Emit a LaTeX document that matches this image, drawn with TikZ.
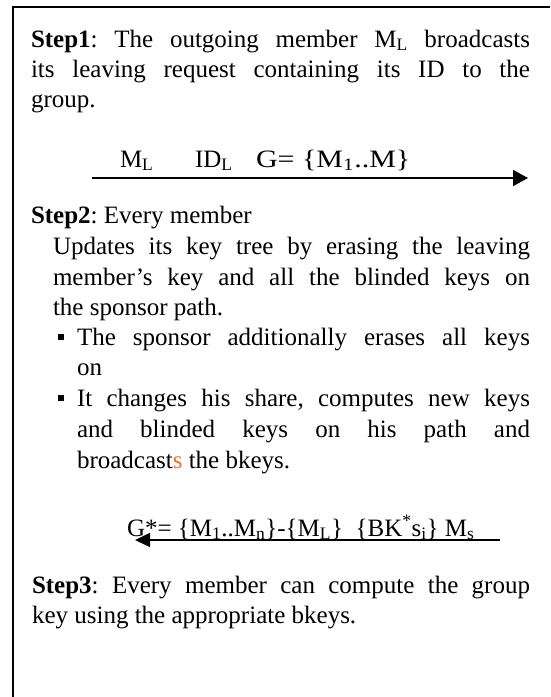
\documentclass[tikz,border=0pt]{standalone}
\usepackage{fontspec}
\usepackage{graphicx}
\setmainfont{Liberation Serif}
\usetikzlibrary{arrows.meta}
\definecolor{accent}{RGB}{237,112,50}
\frenchspacing

\tikzset{
  txt/.style={anchor=base west, inner sep=0pt, outer sep=0pt, font=\fontsize{25}{31}\selectfont},
  msg/.style={line width=1.5pt},
  bulletsq/.style={fill=black, draw=none, minimum size=6.5pt, inner sep=0pt, outer sep=0pt},
}
% justified line of a given width
\newcommand{\jline}[2]{\hbox to #1{#2}}

\begin{document}
\begin{tikzpicture}[x=1pt,y=-1pt]
\useasboundingbox (0,0) rectangle (550,697);
\fill[white] (0,0) rectangle (550,697);

% frame (open to the right and bottom)
\draw[line width=2pt] (12.5,697) -- (12.5,6.5) -- (550,6.5);

% Step 1
\node[txt] (s1a) at (31,47) {\jline{499pt}{\textbf{Step1}: The outgoing member M\textsubscript{L} broadcasts}};
\node[txt] (s1b) at (31,77) {\jline{499pt}{its leaving request containing its ID to the}};
\node[txt] (s1c) at (31,107) {group.};

% leave request message
\node[txt] (m1) at (120,167) {M\textsubscript{L}};
\node[txt] (m2) at (195,167) {ID\textsubscript{L}};
\node[txt] (m3) at (256,167) {\scalebox{1.2}[1]{G= \{M\textsubscript{1}..M\}}};
\coordinate (a1s) at (92,178);
\coordinate (a1e) at (528,178);
\draw[msg,-{Triangle[length=15pt,width=16pt]}] (a1s) -- (a1e);

% Step 2
\node[txt] (s2a) at (31,223) {\textbf{Step2}: Every member};
\node[txt] (s2b) at (53,254) {\jline{477pt}{Updates its key tree by erasing the leaving}};
\node[txt] (s2c) at (53,285) {\jline{477pt}{member’s key and all the blinded keys on}};
\node[txt] (s2d) at (53,315) {the sponsor path.};
\node[bulletsq] (b1) at (61,337) {};
\node[txt] (s2e) at (77,345) {\jline{453pt}{The sponsor additionally erases all keys}};
\node[txt] (s2f) at (77,375) {on};
\node[bulletsq] (b2) at (61,398) {};
\node[txt] (s2g) at (77,406) {\jline{453pt}{It changes his share, computes new keys}};
\node[txt] (s2h) at (77,437) {\jline{453pt}{and blinded keys on his path and}};
\node[txt] (s2i) at (77,468) {broadcast{\color{accent}s} the bkeys.};

% sponsor broadcast
\node[txt] (m4) at (127,536) {G*= \{M\textsubscript{1}..M\textsubscript{n}\}-\{M\textsubscript{L}\}\ \ \{BK\textsuperscript{*}s\textsubscript{i}\} M\textsubscript{s}};
\coordinate (a2s) at (500,540);
\coordinate (a2e) at (135,540);
\draw[msg,-{Triangle[length=15pt,width=14pt]}] (a2s) -- (a2e);

% Step 3
\node[txt] (s3a) at (32,593) {\jline{498pt}{\textbf{Step3}: Every member can compute the group}};
\node[txt] (s3b) at (32,623) {key using the appropriate bkeys.};
\end{tikzpicture}
\end{document}
